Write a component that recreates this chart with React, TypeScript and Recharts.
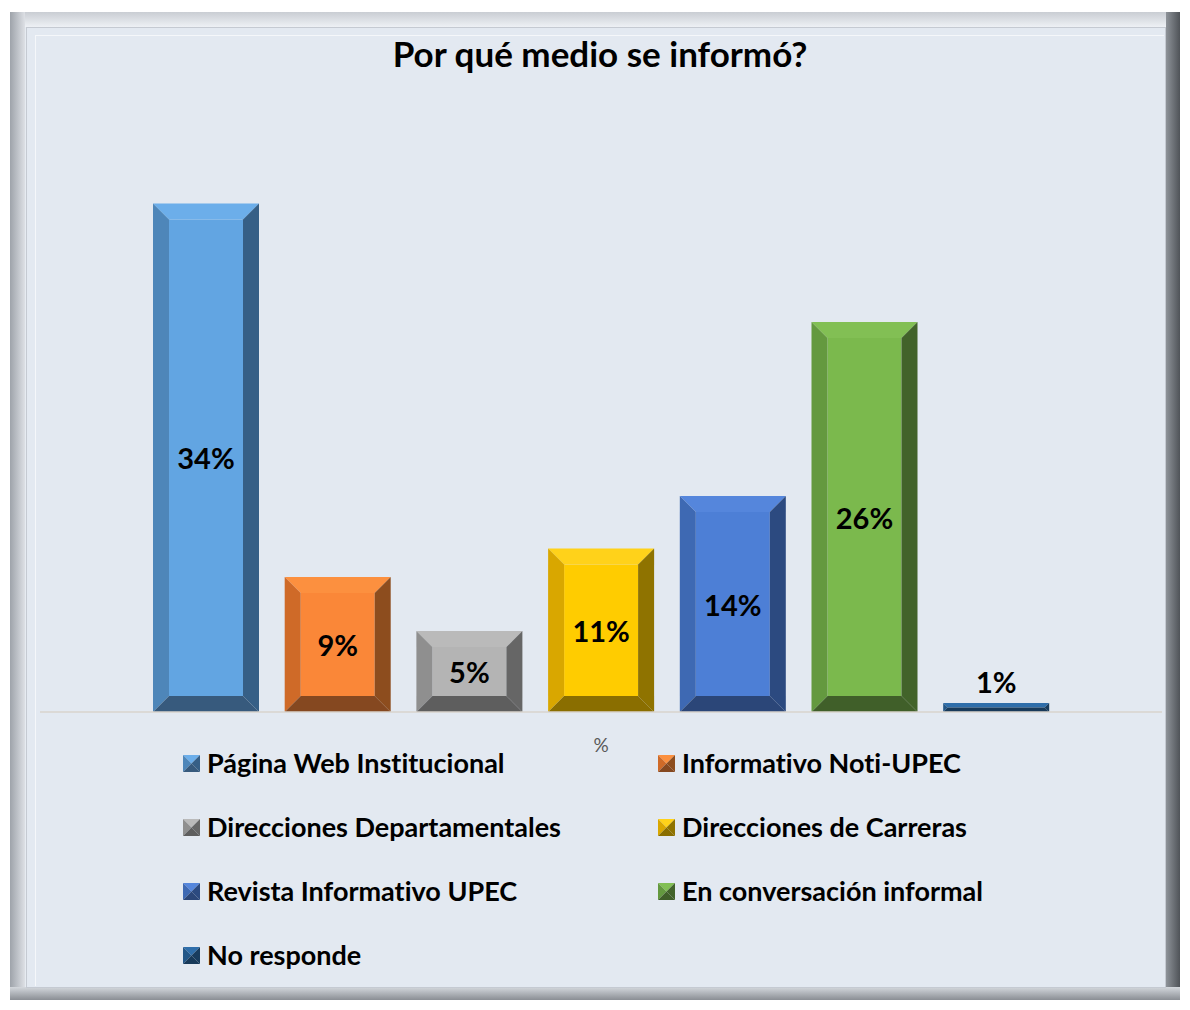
import React from "react";
import { BarChart, Bar, XAxis, YAxis, LabelList } from "recharts";

const seriesNames = [
  "Página Web Institucional",
  "Informativo Noti-UPEC",
  "Direcciones Departamentales",
  "Direcciones de Carreras",
  "Revista Informativo UPEC",
  "En conversación informal",
  "No responde",
];
const seriesValues = [33.9, 9.0, 5.4, 10.9, 14.4, 26.0, 0.6];
const category = "%";

// face, top, left, right, bottom
const palettes = [
  ["#62a5e2", "#6caeea", "#4e86b9", "#365f86", "#375a7d"],
  ["#fa8738", "#fc903f", "#cf6a28", "#8d4d1e", "#854820"],
  ["#b4b4b4", "#bababa", "#8f8f8f", "#666666", "#5e5e5e"],
  ["#ffcc00", "#ffd21a", "#d9a700", "#8f7300", "#8a6e00"],
  ["#4d7fd6", "#5586dc", "#3e69b3", "#2c4a80", "#2b4678"],
  ["#7bb94d", "#82bf54", "#64993f", "#42632a", "#405f29"],
  ["#2a68a2", "#2f6eaa", "#235788", "#183c5e", "#183a5a"],
];

const keys = seriesNames.map((_, i) => `s${i}`);
const chartData = [
  keys.reduce((row: any, k, i) => ({ ...row, [k]: seriesValues[i] }), { name: category }),
];

const FONT = "Lato, 'Open Sans', sans-serif";

const bevel = (x: number, y: number, w: number, h: number, b: number, p: string[]) => {
  const pts = (a: number[][]) => a.map((q) => q.join(",")).join(" ");
  return (
    <g>
      <rect x={x + b} y={y + b} width={Math.max(0, w - 2 * b)} height={Math.max(0, h - 2 * b)} fill={p[0]} />
      <polygon points={pts([[x, y], [x + w, y], [x + w - b, y + b], [x + b, y + b]])} fill={p[1]} />
      <polygon points={pts([[x, y], [x + b, y + b], [x + b, y + h - b], [x, y + h]])} fill={p[2]} />
      <polygon points={pts([[x + w, y], [x + w, y + h], [x + w - b, y + h - b], [x + w - b, y + b]])} fill={p[3]} />
      <polygon points={pts([[x, y + h], [x + b, y + h - b], [x + w - b, y + h - b], [x + w, y + h]])} fill={p[4]} />
    </g>
  );
};

const makeShape = (i: number) => (props: any) => {
  const { x, y, width, height } = props;
  if (!height || height <= 0) return <g />;
  const b = Math.min(16, height / 2, width / 2);
  return bevel(x, y, width, height, b, palettes[i]);
};

const makeLabel = (i: number) => (props: any) => {
  const { x, y, width, height } = props;
  const text = `${Math.round(seriesValues[i])}%`;
  const inside = height > 40;
  return (
    <text
      x={x + width / 2}
      y={inside ? y + height / 2 : y - 10}
      textAnchor="middle"
      dominantBaseline={inside ? "central" : "auto"}
      fontFamily={FONT}
      fontWeight={700}
      fontSize={29}
      fill="#000"
    >
      {text}
    </text>
  );
};

const Legend = () => (
  <div style={{ position: "absolute", left: 0, top: 0 }}>
    {seriesNames.map((name, i) => {
      const col = i % 2;
      const row = Math.floor(i / 2);
      const left = col === 0 ? 183 : 658;
      const cy = 763 + row * 64.3;
      return (
        <div
          key={name}
          style={{
            position: "absolute",
            left,
            top: cy - 17,
            height: 32,
            display: "flex",
            alignItems: "center",
            whiteSpace: "nowrap",
            fontFamily: FONT,
            fontWeight: 700,
            fontSize: 27,
            fontVariantLigatures: "none",
            color: "#000",
          }}
        >
          <svg width={17} height={17} style={{ marginRight: 7, marginTop: 2 }}>
            {bevel(0, 0, 17, 17, 8.5, palettes[i])}
          </svg>
          {name}
        </div>
      );
    })}
  </div>
);

const Frame = () => (
  <>
    <div style={{ position: "absolute", left: 10, top: 12, width: 1170, height: 988, background: "#e6ebf1" }} />
    <div style={{ position: "absolute", left: 10, top: 12, width: 1170, height: 15, background: "linear-gradient(#c9cdd3, #eef1f5)" }} />
    <div style={{ position: "absolute", left: 10, top: 12, width: 15, height: 988, background: "linear-gradient(90deg, #9ea3aa, #dde0e5)" }} />
    <div style={{ position: "absolute", left: 1166, top: 12, width: 14, height: 988, background: "linear-gradient(90deg, #8e9399, #4f5358)" }} />
    <div style={{ position: "absolute", left: 10, top: 987, width: 1170, height: 13, background: "linear-gradient(#d4d8dd, #8a8e94)" }} />
    <div
      style={{
        position: "absolute",
        left: 26,
        top: 27,
        width: 1138,
        height: 959,
        background: "#e3e9f1",
        border: "1px solid #c5cad2",
      }}
    />
    <div
      style={{
        position: "absolute",
        left: 35,
        top: 35,
        width: 1128,
        height: 950,
        borderLeft: "1px solid #f5f7fa",
        borderTop: "1px solid #f5f7fa",
      }}
    />
  </>
);

export default function App() {
  return (
    <div style={{ position: "absolute", left: 0, top: 0, width: 1190, height: 1010, background: "#fff", overflow: "hidden" }}>
      <Frame />
      <div
        style={{
          position: "absolute",
          left: 0,
          top: 36,
          width: 1200,
          textAlign: "center",
          fontFamily: FONT,
          fontWeight: 700,
          fontSize: 35,
          lineHeight: "35px",
          color: "#000",
        }}
      >
        Por qué medio se informó?
      </div>
      <div style={{ position: "absolute", left: 35, top: 35 }}>
        <BarChart
          width={1130}
          height={760}
          data={chartData}
          margin={{ top: 77, right: 3, bottom: 23, left: 5 }}
          barSize={106}
          barGap={25.7}
        >
          <XAxis
            dataKey="name"
            height={60}
            tickLine={false}
            tickSize={0}
            tickMargin={27}
            axisLine={{ stroke: "#d9d3cc", strokeWidth: 1.5 }}
            tick={{ fontSize: 19, fill: "#595959", fontFamily: FONT }}
          />
          <YAxis hide domain={[0, 40]} />
          {keys.map((k, i) => (
            <Bar key={k} dataKey={k} name={seriesNames[i]} isAnimationActive={false} shape={makeShape(i)}>
              <LabelList dataKey={k} content={makeLabel(i)} />
            </Bar>
          ))}
        </BarChart>
      </div>
      <Legend />
    </div>
  );
}
